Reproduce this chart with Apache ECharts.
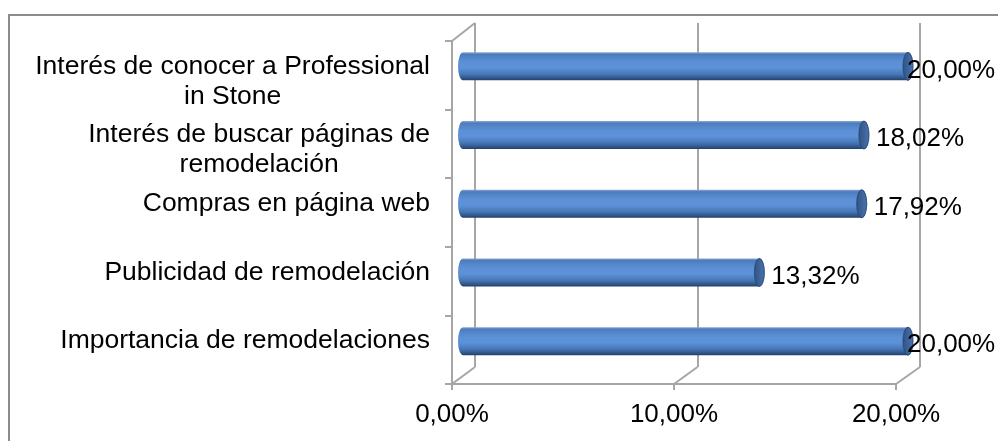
<!DOCTYPE html>
<html>
<head>
<meta charset="utf-8">
<script src="https://cdn.jsdelivr.net/npm/echarts@6/dist/echarts.min.js"></script>
<style>
  html, body { margin: 0; padding: 0; background: #fff; }
  #chart { width: 998px; height: 441px; }
</style>
</head>
<body>
<div id="chart"></div>
<script>
// bottom to top, as ECharts lays out a category y axis
const categories = [
  'Importancia de remodelaciones',
  'Publicidad de remodelación',
  'Compras en página web',
  'Interés de buscar páginas de\nremodelación',
  'Interés de conocer a Professional\nin Stone'
];
const values = [20.00, 13.32, 17.92, 18.02, 20.00];
const xTicks = [0, 10, 20];
const xMax = 20;

// 3d frame: front plane, back wall and the plane the cylinders sit in
const FRONT = { left: 452, right: 896, top: 41, bottom: 384 };
const BACK = { left: 475, right: 920, top: 23, bottom: 367 };
const MID = { left: 463, right: 908, top: 32, bottom: 375.5 };
const W = 998, H = 441;
const BAR_H = 28;
const FONT = "'Liberation Sans', Arial, sans-serif";
const GRAY = '#A6A6A6';

const chart = echarts.init(document.getElementById('chart'));

function fmtPct(v) {
  return v.toFixed(2).replace('.', ',') + '%';
}

function gridOf(r) {
  return { left: r.left, right: W - r.right, top: r.top, bottom: H - r.bottom };
}

const bodyFill = new echarts.graphic.LinearGradient(0, 0, 0, 1, [
  { offset: 0, color: '#8EA9CF' },
  { offset: 0.07, color: '#4C7CBE' },
  { offset: 0.35, color: '#5C91D7' },
  { offset: 0.55, color: '#5D92D8' },
  { offset: 0.78, color: '#4777B8' },
  { offset: 0.93, color: '#2F5386' },
  { offset: 1, color: '#233F66' }
]);
const capFill = new echarts.graphic.LinearGradient(0, 0, 1, 0, [
  { offset: 0, color: '#2F5386' },
  { offset: 1, color: '#4A73AC' }
]);

function renderCylinder(params, api) {
  const val = api.value(0);
  const idx = api.value(1);
  const s = api.coord([0, idx]);
  const e = api.coord([val, idx]);
  const rx = 5, ry = BAR_H / 2;
  const top = s[1] - ry, bot = s[1] + ry;
  const sx = s[0], ex = e[0];
  const body = `M${sx},${top} L${ex},${top} A${rx},${ry} 0 0 1 ${ex},${bot} ` +
    `L${sx},${bot} A${rx},${ry} 0 0 1 ${sx},${top} Z`;
  const cap = `M${ex},${top} A${rx},${ry} 0 0 1 ${ex},${bot} A${rx},${ry} 0 0 1 ${ex},${top} Z`;
  return {
    type: 'group',
    children: [
      { type: 'path', shape: { pathData: body }, style: { fill: bodyFill } },
      { type: 'path', shape: { pathData: cap }, style: { fill: capFill, stroke: '#2B4A78', lineWidth: 0.6 } }
    ]
  };
}

// category labels: each line centred, block right aligned; two-line labels
// start level with the cylinder like in the original
function catLabel(value) {
  const lines = value.split('\n');
  if (lines.length > 1) lines.unshift(' ');
  return lines.map(l => '{c|' + l + '}').join('\n');
}

chart.setOption({
  animation: false,
  grid: [gridOf(BACK), gridOf(FRONT), gridOf(MID)],
  xAxis: [
    {
      gridIndex: 0, type: 'value', min: 0, max: xMax, interval: 10,
      axisLine: { show: false }, axisTick: { show: false }, axisLabel: { show: false },
      splitLine: { show: true, lineStyle: { color: GRAY, width: 2 } }
    },
    {
      gridIndex: 1, type: 'value', min: 0, max: xMax, interval: 10,
      axisLine: { show: true, lineStyle: { color: GRAY, width: 2 } },
      axisTick: { show: true, length: 6, lineStyle: { color: GRAY, width: 2 } },
      axisLabel: {
        margin: 18, color: '#000', fontSize: 26, fontFamily: FONT,
        formatter: v => fmtPct(v)
      },
      splitLine: { show: false }
    },
    {
      gridIndex: 2, type: 'value', min: 0, max: xMax, show: false
    }
  ],
  yAxis: [
    {
      gridIndex: 0, type: 'category', data: categories, show: false
    },
    {
      gridIndex: 1, type: 'category', data: categories,
      axisLine: { show: true, lineStyle: { color: GRAY, width: 2 } },
      axisTick: { show: true, length: 7, lineStyle: { color: GRAY, width: 2 } },
      axisLabel: { show: false },
      splitLine: { show: false }
    },
    {
      gridIndex: 2, type: 'category', data: categories,
      axisLine: { show: false }, axisTick: { show: false },
      axisLabel: {
        margin: 33, align: 'right', interval: 0,
        showMinLabel: true, showMaxLabel: true,
        formatter: catLabel,
        rich: { c: { align: 'center', fontSize: 26.5, fontFamily: FONT, color: '#000', lineHeight: 30 } }
      }
    }
  ],
  series: [
    {
      type: 'custom',
      xAxisIndex: 2, yAxisIndex: 2,
      renderItem: renderCylinder,
      encode: { x: 0, y: 1 },
      data: values.map((v, i) => [v, i]),
      silent: true
    },
    {
      type: 'bar',
      xAxisIndex: 2, yAxisIndex: 2,
      barWidth: BAR_H,
      itemStyle: { color: 'rgba(0,0,0,0)' },
      silent: true,
      label: {
        show: true, position: 'right', distance: 12, offset: [0, 4],
        color: '#000', fontSize: 26, fontFamily: FONT,
        formatter: p => fmtPct(p.value)
      },
      // labels that would leave the plot get pulled back against the bar end
      data: values.map(v => v >= xMax ? { value: v, label: { distance: -1 } } : v)
    }
  ]
});

// frame: outer chart border plus the diagonal edges of the 3d walls
const frame = [
  {
    type: 'rect', shape: { x: 9, y: 15, width: 1100, height: 500 },
    style: { fill: 'none', stroke: '#8C8C8C', lineWidth: 2 }, silent: true
  },
  {
    type: 'line', shape: { x1: FRONT.left, y1: FRONT.top, x2: BACK.left, y2: BACK.top },
    style: { stroke: GRAY, lineWidth: 2 }, silent: true
  }
];
xTicks.forEach(t => {
  const fx = chart.convertToPixel({ xAxisIndex: 1 }, t);
  const bx = chart.convertToPixel({ xAxisIndex: 0 }, t);
  frame.push({
    type: 'line', shape: { x1: fx, y1: FRONT.bottom, x2: bx, y2: BACK.bottom },
    style: { stroke: GRAY, lineWidth: 2 }, silent: true
  });
});
chart.setOption({ graphic: frame });
</script>
</body>
</html>
